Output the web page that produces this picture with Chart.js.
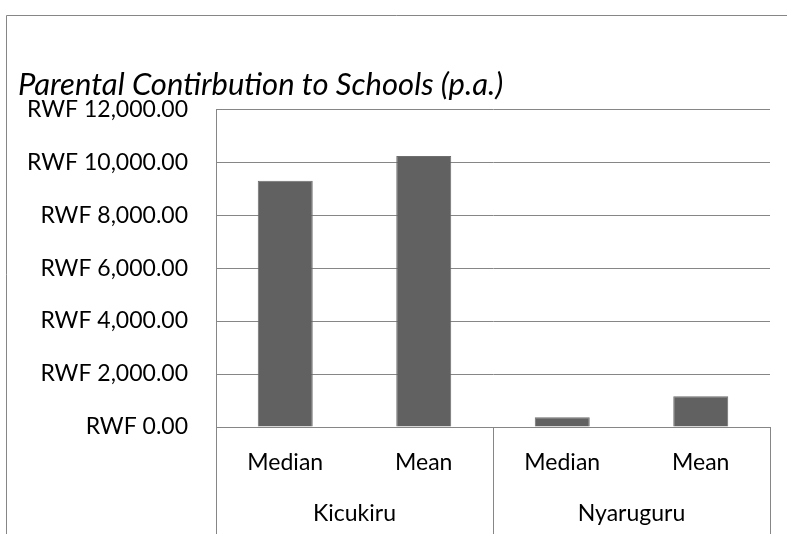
<!DOCTYPE html>
<html>
<head>
<meta charset="utf-8">
<script src="https://cdn.jsdelivr.net/npm/chart.js@4/dist/chart.umd.min.js"></script>
<style>
  html, body { margin: 0; padding: 0; background: #fff; }
  #wrap { width: 787px; height: 534px; }
</style>
</head>
<body>
<div id="wrap"><canvas id="chart" width="787" height="534"></canvas></div>
<script>
const groups = ["Kicukiru", "Nyaruguru"];
const measures = ["Median", "Mean", "Median", "Mean"];
const contribution = [9300, 10230, 365, 1160];
const yTickValues = [0, 2000, 4000, 6000, 8000, 10000, 12000];

const lineGrey = "#868686";
const font = "Lato, 'Open Sans', sans-serif";
const labelSize = 23;

// chart frame plus the group dividers under the category axis
const framePlugin = {
  id: "frame",
  afterDraw(chart) {
    const ctx = chart.ctx;
    const xs = chart.scales.x;
    const mid = (xs.getPixelForValue(1) + xs.getPixelForValue(2)) / 2;
    ctx.save();
    ctx.strokeStyle = lineGrey;
    ctx.lineWidth = 1;
    ctx.beginPath();
    ctx.moveTo(6.5, chart.height);
    ctx.lineTo(6.5, 15.5);
    ctx.lineTo(chart.width, 15.5);
    [xs.left, mid, xs.right].forEach(px => {
      const x = Math.round(px) + 0.5;
      ctx.moveTo(x, xs.top);
      ctx.lineTo(x, chart.height);
    });
    ctx.stroke();
    ctx.restore();
  }
};

new Chart(document.getElementById("chart"), {
  type: "bar",
  data: {
    labels: measures,
    datasets: [{
      data: contribution,
      backgroundColor: "#616161",
      borderColor: "#6e6e6e",
      borderWidth: 1,
      barPercentage: 0.397,
      categoryPercentage: 1
    }]
  },
  options: {
    responsive: false,
    animation: false,
    layout: { padding: { left: 18, right: 17, top: 0, bottom: 0 } },
    plugins: {
      legend: { display: false },
      tooltip: { enabled: false },
      title: {
        display: true,
        text: "Parental Contirbution to Schools (p.a.)",
        align: "start",
        color: "#000",
        font: { family: font, size: 31, style: "italic", weight: "normal" },
        padding: { top: 66, bottom: 6 }
      }
    },
    scales: {
      x: {
        afterFit(scale) { scale.height = 46; },
        grid: { display: false, drawTicks: false },
        border: { display: false },
        ticks: { color: "#000", padding: 22, maxRotation: 0, font: { family: font, size: labelSize } }
      },
      x2: {
        type: "category",
        labels: groups,
        position: "bottom",
        afterFit(scale) { scale.height = 61; },
        grid: { display: false, drawTicks: false },
        border: { display: false },
        ticks: { color: "#000", padding: 27, maxRotation: 0, font: { family: font, size: labelSize } }
      },
      y: {
        min: 0,
        max: 12000,
        afterBuildTicks(scale) {
          scale.ticks = yTickValues.map(v => ({ value: v }));
        },
        afterFit(scale) { scale.width = 198; },
        grid: { color: lineGrey, drawTicks: false },
        border: { color: lineGrey },
        ticks: {
          color: "#000",
          padding: 28,
          font: { family: font, size: labelSize },
          callback: v => "RWF " + v.toLocaleString("en-US", { minimumFractionDigits: 2, maximumFractionDigits: 2 })
        }
      }
    }
  },
  plugins: [framePlugin]
});
</script>
</body>
</html>
